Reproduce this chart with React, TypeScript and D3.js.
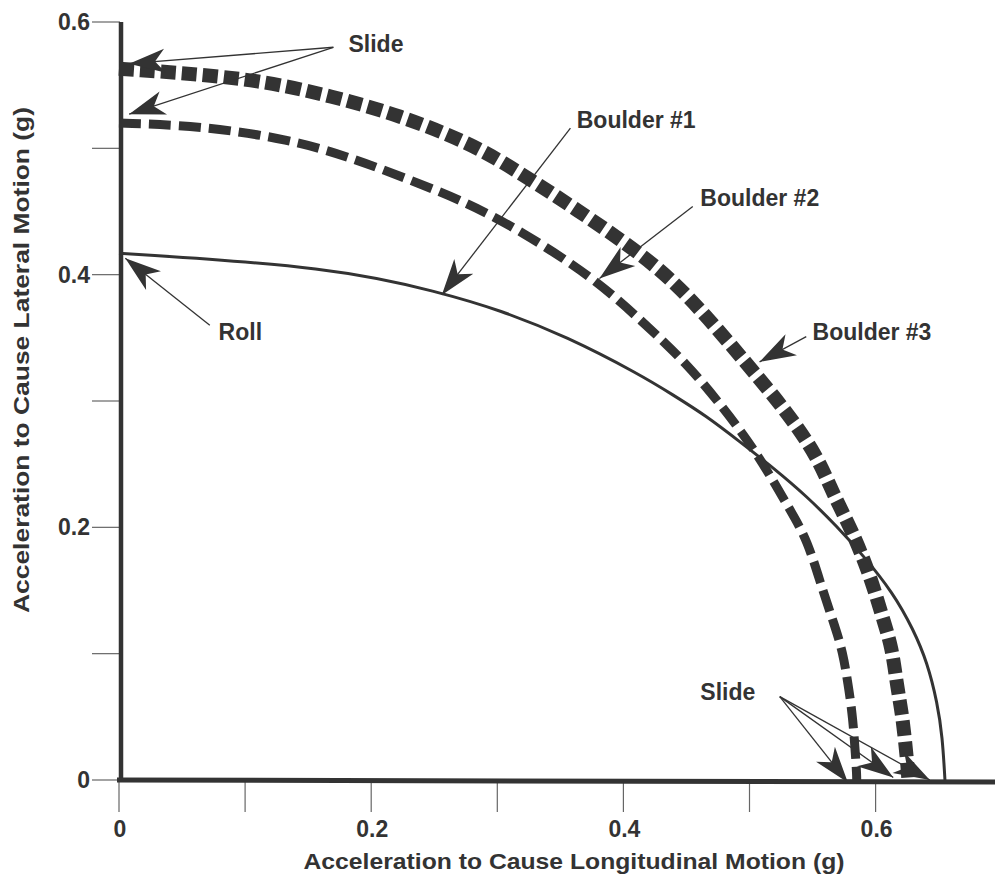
import React from 'react';
import * as d3 from 'd3';

// units of g: [longitudinal, lateral]
const boulder1: [number, number][] = [
  [0, 0.417], [0.17, 0.406], [0.255, 0.386], [0.302, 0.372], [0.355, 0.351],
  [0.413, 0.321], [0.439, 0.305], [0.466, 0.288], [0.492, 0.268], [0.519, 0.247],
  [0.546, 0.224], [0.569, 0.201], [0.59, 0.178], [0.614, 0.148], [0.63, 0.119],
  [0.641, 0.093], [0.649, 0.061], [0.653, 0.034], [0.655, 0],
];
const boulder2: [number, number][] = [
  [0, 0.52], [0.064, 0.518], [0.136, 0.507], [0.183, 0.493], [0.231, 0.475],
  [0.276, 0.457], [0.318, 0.435], [0.376, 0.398], [0.416, 0.362], [0.45, 0.33],
  [0.479, 0.295], [0.506, 0.259], [0.532, 0.214], [0.546, 0.19], [0.558, 0.15],
  [0.568, 0.121], [0.574, 0.101], [0.578, 0.077], [0.582, 0.05], [0.585, 0.006],
  [0.585, 0],
];
const boulder3: [number, number][] = [
  [0, 0.563], [0.104, 0.556], [0.17, 0.541], [0.223, 0.526], [0.276, 0.505],
  [0.312, 0.485], [0.408, 0.422], [0.45, 0.386], [0.5, 0.327], [0.53, 0.291],
  [0.554, 0.256], [0.566, 0.227], [0.582, 0.196], [0.596, 0.161], [0.606, 0.127],
  [0.613, 0.105], [0.617, 0.074], [0.621, 0.053], [0.625, 0.016], [0.626, 0],
];

const xTicks = [0, 0.1, 0.2, 0.3, 0.4, 0.5, 0.6];
const yTicks = [0, 0.1, 0.2, 0.3, 0.4, 0.5, 0.6];
const xTickLabels = ['0', '', '0.2', '', '0.4', '', '0.6'];
const yTickLabels = ['0', '', '0.2', '', '0.4', '', '0.6'];

// callouts: text anchor, line origin, arrow tips (all in g)
const callouts = [
  { text: 'Slide', at: [0.182, 0.576], from: [0.17, 0.58], tips: [[0.008, 0.567], [0.008, 0.527]] },
  { text: 'Boulder #1', at: [0.363, 0.516], from: [0.358, 0.516], tips: [[0.256, 0.384]] },
  { text: 'Boulder #2', at: [0.461, 0.454], from: [0.455, 0.454], tips: [[0.381, 0.397]] },
  { text: 'Boulder #3', at: [0.55, 0.348], from: [0.545, 0.351], tips: [[0.508, 0.331]] },
  { text: 'Roll', at: [0.079, 0.348], from: [0.072, 0.36], tips: [[0.005, 0.413]] },
  { text: 'Slide', at: [0.461, 0.063], from: [0.524, 0.066], tips: [[0.578, -0.002], [0.614, 0.002], [0.643, 0]] },
];

const W = 995;
const H = 882;
const ink = '#333';

const x = d3.scaleLinear().domain([0, 0.7]).range([119, 119 + 0.7 * 1261]);
const y = d3.scaleLinear().domain([0, 0.6]).range([780, 22]);

const line = d3
  .line<[number, number]>()
  .x((d) => x(d[0]))
  .y((d) => y(d[1]))
  .curve(d3.curveBasis);

const bold = "'Liberation Sans', Arial, sans-serif";
const narrow = "'Liberation Sans Narrow', 'Liberation Sans', Arial, sans-serif";

export default function App() {
  return (
    <svg width={W} height={H} style={{ display: 'block', position: 'absolute', left: 0, top: 0, background: '#fff' }}>
      <defs>
        <marker id="head" viewBox="-42 -16 46 32" refX={0} refY={0} markerWidth={46} markerHeight={32}
          markerUnits="userSpaceOnUse" orient="auto">
          <path d="M0,0 L-36,-12 L-26,0 L-36,12 Z" fill={ink} />
        </marker>
      </defs>

      {/* y ticks */}
      {yTicks.map((t, i) => (
        <g key={'y' + i}>
          <line x1={92} x2={120} y1={y(t)} y2={y(t)} stroke="#666" strokeWidth={1.2} />
          <text x={90} y={y(t) + 8} textAnchor="end" fontFamily={bold} fontWeight="bold" fontSize={23} fill={ink}>
            {yTickLabels[i]}
          </text>
        </g>
      ))}
      {/* x ticks */}
      {xTicks.map((t, i) => (
        <g key={'x' + i}>
          <line x1={x(t)} x2={x(t)} y1={780} y2={812} stroke="#666" strokeWidth={1.2} />
          <text x={x(t) + 1} y={837} textAnchor="middle" fontFamily={bold} fontWeight="bold" fontSize={23} fill={ink}>
            {xTickLabels[i]}
          </text>
        </g>
      ))}

      {/* axes */}
      <line x1={121} x2={121} y1={y(0.6)} y2={782} stroke={ink} strokeWidth={4.5} />
      <line x1={117} x2={W} y1={780} y2={782} stroke={ink} strokeWidth={5} />

      {/* curves */}
      <path d={line(boulder1) ?? ''} fill="none" stroke={ink} strokeWidth={3} />
      <path d={line(boulder2) ?? ''} fill="none" stroke={ink} strokeWidth={9} strokeDasharray="22 8" />
      <path d={line(boulder3) ?? ''} fill="none" stroke={ink} strokeWidth={14} strokeDasharray="15 6" />

      {/* callouts */}
      {callouts.map((c, i) => (
        <g key={'c' + i}>
          {c.tips.map((tp, j) => (
            <line key={j} x1={x(c.from[0])} y1={y(c.from[1])} x2={x(tp[0])} y2={y(tp[1])}
              stroke={ink} strokeWidth={1.3} markerEnd="url(#head)" />
          ))}
          <text x={x(c.at[0])} y={y(c.at[1])} fontFamily={bold} fontWeight="bold" fontSize={23} fill={ink}>
            {c.text}
          </text>
        </g>
      ))}

      {/* axis titles */}
      <text x={574} y={869} textAnchor="middle" fontFamily={narrow} fontWeight="bold" fontSize={22}
        textLength={541} lengthAdjust="spacingAndGlyphs" fill={ink}>
        Acceleration to Cause Longitudinal Motion  (g)
      </text>
      <text transform="translate(29,360) rotate(-90)" textAnchor="middle" fontFamily={narrow} fontWeight="bold"
        fontSize={22} textLength={506} lengthAdjust="spacingAndGlyphs" fill={ink}>
        Acceleration to Cause Lateral Motion  (g)
      </text>
    </svg>
  );
}
